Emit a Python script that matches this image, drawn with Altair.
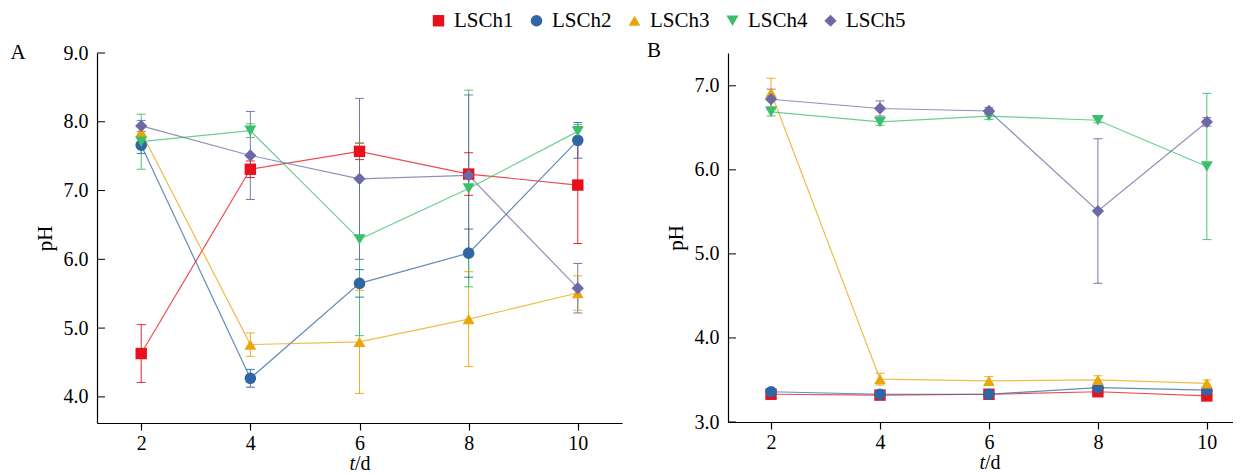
import altair as alt
import pandas as pd

days = [2, 4, 6, 8, 10]
series = ["LSCh1", "LSCh2", "LSCh3", "LSCh4", "LSCh5"]
colors = ["#E8101A", "#2F66A3", "#E8A60C", "#3BBF6B", "#6B6AA6"]
shapes = ["square", "circle", "triangle-up", "triangle-down", "diamond"]
marker_sizes = [130, 150, 180, 180, 210]

# Panel A: mean pH and half error
a_lsch1 = [4.63, 7.31, 7.57, 7.24, 7.08]
a_lsch2 = [7.66, 4.27, 5.65, 6.09, 7.73]
a_lsch3 = [7.85, 4.76, 4.80, 5.13, 5.51]
a_lsch4 = [7.71, 7.87, 6.29, 7.03, 7.86]
a_lsch5 = [7.94, 7.51, 7.17, 7.22, 5.58]
a_err1 = [0.42, 0.12, 0.12, 0.31, 0.85]
a_err2 = [0.12, 0.13, 0.20, 0.35, 0.26]
a_err3 = [0.10, 0.17, 0.75, 0.69, 0.25]
a_err4 = [0.40, 0.10, 1.40, 1.43, 0.10]
a_err5 = [0.08, 0.64, 1.17, 1.17, 0.36]

# Panel B
b_lsch1 = [3.33, 3.32, 3.33, 3.36, 3.31]
b_lsch2 = [3.36, 3.33, 3.33, 3.41, 3.38]
b_lsch3 = [6.92, 3.51, 3.49, 3.50, 3.46]
b_lsch4 = [6.69, 6.57, 6.64, 6.59, 6.04]
b_lsch5 = [6.84, 6.73, 6.70, 5.51, 6.57]
b_err1 = [0.03, 0.03, 0.03, 0.03, 0.03]
b_err2 = [0.03, 0.03, 0.03, 0.03, 0.03]
b_err3 = [0.17, 0.07, 0.05, 0.05, 0.04]
b_err4 = [0.05, 0.04, 0.04, 0.03, 0.87]
b_err5 = [0.12, 0.09, 0.04, 0.86, 0.05]

a_ticks = [4.0, 5.0, 6.0, 7.0, 8.0, 9.0]
b_ticks = [3.0, 4.0, 5.0, 6.0, 7.0]

FONT = "Liberation Serif"


def build_df(means, errs):
    rows = []
    for s, m, e in zip(series, means, errs):
        for t, v, d in zip(days, m, e):
            rows.append({"t": t, "series": s, "ph": v, "lo": v - d, "hi": v + d})
    return pd.DataFrame(rows)


dfA = build_df([a_lsch1, a_lsch2, a_lsch3, a_lsch4, a_lsch5],
               [a_err1, a_err2, a_err3, a_err4, a_err5])
dfB = build_df([b_lsch1, b_lsch2, b_lsch3, b_lsch4, b_lsch5],
               [b_err1, b_err2, b_err3, b_err4, b_err5])

leg = alt.Legend(title=None, labelFont=FONT, labelFontSize=21, labelColor="black",
                 symbolSize=110, symbolOpacity=1, symbolStrokeWidth=0,
                 labelOffset=5, columnPadding=12, direction="horizontal",
                 orient="none", legendX=331, legendY=-43)


def panel(df, ydom, yticks, xdom, w, h, label, lx, ly, tsplit):
    xs = alt.Scale(domain=xdom, nice=False, zero=False)
    ys = alt.Scale(domain=ydom, nice=False, zero=False)
    xax = alt.Axis(values=days, title=None, tickSize=7, labelPadding=3, format="d")
    yax = alt.Axis(values=yticks, format=".1f", title="pH",
                   tickSize=0, labelPadding=9, titlePadding=8)
    cscale = alt.Scale(domain=series, range=colors)
    sscale = alt.Scale(domain=series, range=shapes)
    color = alt.Color("series:N", scale=cscale, legend=leg)
    base = alt.Chart(df)
    lines = base.mark_line(strokeWidth=1.2, opacity=0.75).encode(
        x=alt.X("t:Q", scale=xs, axis=xax), y=alt.Y("ph:Q", scale=ys, axis=yax), color=color)
    bars = base.mark_rule(strokeWidth=1, opacity=0.9).encode(
        x=alt.X("t:Q", scale=xs, axis=xax), y=alt.Y("lo:Q", scale=ys, axis=yax), y2="hi:Q",
        color=color)
    caps_lo = base.mark_tick(orient="horizontal", size=9, thickness=1, opacity=0.9).encode(
        x=alt.X("t:Q", scale=xs, axis=xax), y=alt.Y("lo:Q", scale=ys, axis=yax), color=color)
    caps_hi = base.mark_tick(orient="horizontal", size=9, thickness=1, opacity=0.9).encode(
        x=alt.X("t:Q", scale=xs, axis=xax), y=alt.Y("hi:Q", scale=ys, axis=yax), color=color)
    pts = base.mark_point(filled=True, opacity=1).encode(
        x=alt.X("t:Q", scale=xs, axis=xax), y=alt.Y("ph:Q", scale=ys, axis=yax),
        color=color,
        shape=alt.Shape("series:N", scale=sscale, legend=leg),
        size=alt.Size("series:N", scale=alt.Scale(domain=series, range=marker_sizes),
                      legend=None))
    ytick = alt.Chart(pd.DataFrame({"v": yticks})).mark_rule(color="black", strokeWidth=1).encode(
        x=alt.value(0), x2=alt.value(8), y=alt.Y("v:Q", scale=ys, axis=yax))
    lab = alt.Chart(pd.DataFrame({"s": [label]})).mark_text(
        font=FONT, fontSize=21, align="center", baseline="middle", color="black").encode(
        text="s:N", x=alt.value(lx), y=alt.value(ly))
    t1 = alt.Chart(pd.DataFrame({"s": ["t"]})).mark_text(
        font=FONT, fontSize=20, fontStyle="italic", align="right", baseline="middle",
        color="black").encode(text="s:N", x=alt.value(tsplit), y=alt.value(h + 41))
    t2 = alt.Chart(pd.DataFrame({"s": ["/d"]})).mark_text(
        font=FONT, fontSize=20, align="left", baseline="middle",
        color="black").encode(text="s:N", x=alt.value(tsplit), y=alt.value(h + 41))
    return alt.layer(lines, bars, caps_lo, caps_hi, pts, ytick, lab, t1, t2).properties(
        width=w, height=h)


pA = panel(dfA, [3.62, 9.0], a_ticks, [1.19, 10.81], 525, 370, "A", -79, 0, 258)
pB = panel(dfB, [3.0, 7.39], b_ticks, [1.21, 10.48], 505, 369, "B", -74, -2, 257)

chart = alt.hconcat(pA, pB, spacing=24).properties(
    padding={"left": 2, "top": 2, "right": 0, "bottom": 0}
).configure_view(
    stroke=None
).configure_axis(
    grid=False, domainColor="black", domainWidth=1.2, tickColor="black", tickWidth=1.2,
    labelFont=FONT, labelFontSize=20, labelColor="black",
    titleFont=FONT, titleFontSize=21, titleColor="black", titleFontWeight="normal"
).configure_legend(
    labelFont=FONT, labelFontSize=21, labelColor="black"
)

chart.save("out.html", embed_options={"renderer": "svg", "actions": False})
